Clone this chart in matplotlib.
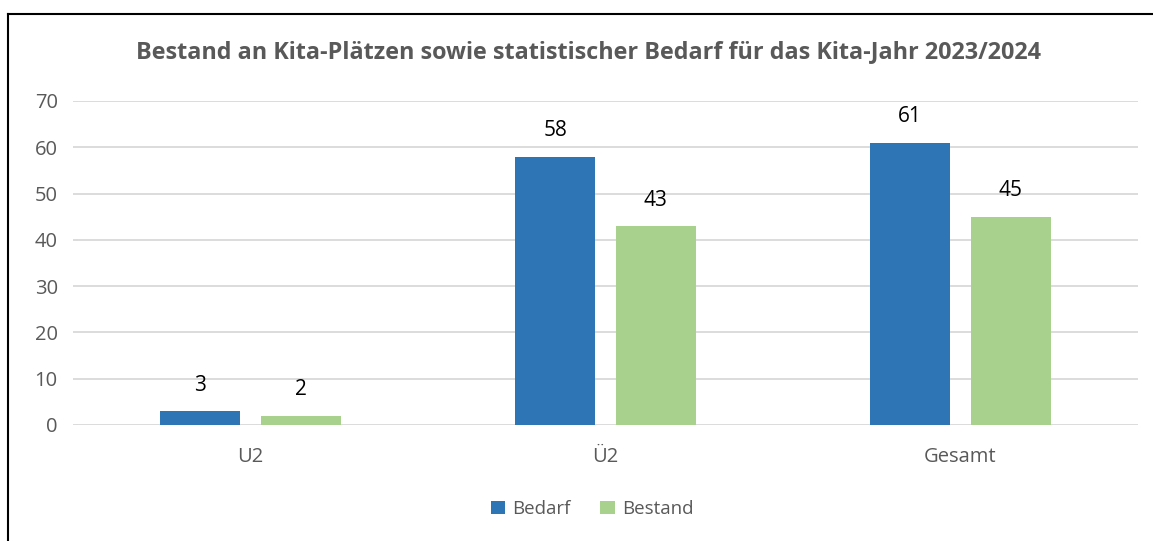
import numpy as np
import matplotlib
matplotlib.use("Agg")
import matplotlib.pyplot as plt
import matplotlib.lines as mlines

categories = ["U2", "Ü2", "Gesamt"]
bedarf = [3, 58, 61]
bestand = [2, 43, 45]
yticks = [0, 10, 20, 30, 40, 50, 60, 70]

blue = "#2E75B6"
green = "#A9D18E"
grey = "#595959"

plt.rcParams["font.family"] = ["Open Sans", "DejaVu Sans"]

fig = plt.figure(figsize=(11.53, 5.41), dpi=100)
ax = fig.add_axes([73 / 1153, 1 - 425 / 541, 1065 / 1153, 324 / 541])

x = np.arange(len(categories))
offset = 0.142
width = 0.225
b1 = ax.bar(x - offset, bedarf, width, color=blue, label="Bedarf", zorder=3)
b2 = ax.bar(x + offset, bestand, width, color=green, label="Bestand", zorder=3)

for bars, vals in [(b1, bedarf), (b2, bestand)]:
    for bar, v in zip(bars, vals):
        ax.annotate(str(v), (bar.get_x() + bar.get_width() / 2, v),
                    xytext=(0, 11), textcoords="offset points",
                    ha="center", va="bottom", fontsize=15, color="black")

ax.set_xlim(-0.5, 2.5)
ax.set_ylim(0, 70)
ax.set_yticks(yticks)
ax.set_xticks(x)
ax.set_xticklabels(categories)
ax.grid(axis="y", color="#D9D9D9", linewidth=1.3, zorder=0)
ax.tick_params(axis="both", length=0, labelsize=14.5, labelcolor=grey)
ax.tick_params(axis="y", pad=11)
ax.tick_params(axis="x", pad=16)
for s in ax.spines.values():
    s.set_visible(False)

fig.text(588 / 1153, 1 - 52 / 541,
         "Bestand an Kita-Plätzen sowie statistischer Bedarf für das Kita-Jahr 2023/2024",
         ha="center", va="center", fontsize=16.8, fontweight="bold", color=grey)

fig.legend(handles=[b1, b2], loc="center", bbox_to_anchor=(592 / 1153, 1 - 509 / 541),
           ncol=2, frameon=False, fontsize=13.5, labelcolor=grey,
           handlelength=0.75, handleheight=0.75, handletextpad=0.4, columnspacing=1.6)

# frame lines along the top and left edge
fig.add_artist(mlines.Line2D([8 / 1153, 1], [1 - 14 / 541] * 2, color="black", linewidth=1.5,
                             transform=fig.transFigure))
fig.add_artist(mlines.Line2D([8 / 1153] * 2, [0, 1 - 14 / 541], color="black", linewidth=1.5,
                             transform=fig.transFigure))

fig.savefig("out.png", dpi=100)
